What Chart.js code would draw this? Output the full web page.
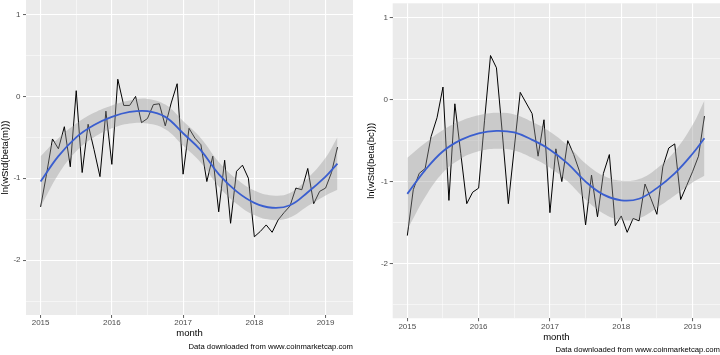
<!DOCTYPE html>
<html>
<head>
<meta charset="utf-8">
<script src="https://cdn.jsdelivr.net/npm/chart.js@4/dist/chart.umd.min.js"></script>
<style>
  html, body { margin: 0; padding: 0; background: #ffffff; }
  #wrap { position: relative; width: 720px; height: 355px; overflow: hidden; }
  .panel { position: absolute; top: 0; width: 360px; height: 355px; }
</style>
</head>
<body>
<div id="wrap">
  <div class="panel" style="left:0"><canvas id="c1" width="360" height="355"></canvas></div>
  <div class="panel" style="left:360px"><canvas id="c2" width="360" height="355"></canvas></div>
</div>
<script>
// ---------------- data ----------------
const startYear = 2015;          // first month: 2015-01
const monthCount = 51;           // 2015-01 .. 2019-03

// ln(wStd(beta(m))) monthly values
const leftValues = [
  -1.35, -0.95, -0.52, -0.64, -0.37, -0.86,  0.07, -0.93, -0.34, -0.65, -0.98, -0.18,
  -0.83,  0.21, -0.11, -0.11,  0.00, -0.32, -0.27, -0.10, -0.09, -0.36, -0.08,  0.155,
  -0.95, -0.39, -0.51, -0.59, -1.04, -0.73, -1.41, -0.78, -1.55, -0.915, -0.84, -1.00,
  -1.715, -1.65, -1.57, -1.66, -1.51, -1.42, -1.34, -1.12, -1.14, -0.88, -1.31, -1.16,
  -1.12, -0.93, -0.62
];
// ln(wStd(beta(bc))) monthly values
const rightValues = [
  -1.66, -1.10, -0.90, -0.84, -0.45, -0.22,  0.155, -1.23, -0.05, -0.66, -1.27, -1.13,
  -1.08, -0.25,  0.54,  0.39, -0.42, -1.27, -0.59,  0.09, -0.04, -0.17, -0.69, -0.245,
  -1.38, -0.60, -1.00, -0.50, -0.67, -0.88, -1.53, -0.92, -1.43, -0.90, -0.67, -1.54,
  -1.42, -1.62, -1.45, -1.48, -1.03, -1.21, -1.40, -0.82, -0.59, -0.54, -1.22, -1.05,
  -0.88, -0.69, -0.20
];

// smoother (read at these month indexes)
const smoothMonths = [0, 3, 6, 9, 12, 15, 18, 21, 24, 27, 30, 33, 36, 39, 42, 45, 48, 50];
const leftSmooth = [-1.04, -0.73, -0.50, -0.35, -0.25, -0.19, -0.18, -0.25, -0.45, -0.66, -0.95, -1.16, -1.30, -1.36, -1.33, -1.17, -0.98, -0.82];
const leftUpper  = [-0.73, -0.51, -0.33, -0.20, -0.11, -0.05, -0.03, -0.10, -0.30, -0.51, -0.80, -1.01, -1.15, -1.21, -1.18, -1.00, -0.75, -0.50];
const leftLower  = [-1.35, -0.95, -0.67, -0.50, -0.39, -0.33, -0.33, -0.40, -0.60, -0.81, -1.10, -1.31, -1.45, -1.51, -1.48, -1.34, -1.21, -1.14];
const rightSmooth = [-1.15, -0.86, -0.63, -0.49, -0.41, -0.38, -0.40, -0.49, -0.61, -0.78, -1.00, -1.16, -1.23, -1.21, -1.08, -0.90, -0.66, -0.47];
const rightUpper  = [-0.71, -0.53, -0.37, -0.26, -0.19, -0.16, -0.18, -0.27, -0.39, -0.56, -0.78, -0.93, -0.99, -0.97, -0.84, -0.63, -0.31, -0.01];
const rightLower  = [-1.59, -1.19, -0.89, -0.72, -0.63, -0.60, -0.62, -0.71, -0.83, -1.00, -1.22, -1.39, -1.47, -1.45, -1.32, -1.17, -1.01, -0.93];

// ticks
const xTickValues = [2015, 2015.5, 2016, 2016.5, 2017, 2017.5, 2018, 2018.5, 2019];
const xTickLabels = {2015: '2015', 2016: '2016', 2017: '2017', 2018: '2018', 2019: '2019'};
const yTickValues = [-2.5, -2, -1.5, -1, -0.5, 0, 0.5, 1];
const yTickLabels = {'-2': '-2', '-1': '-1', '0': '0', '1': '1'};

const leftTitle = 'ln(wStd(beta(m)))';
const rightTitle = 'ln(wStd(beta(bc)))';
const xTitle = 'month';
const caption = 'Data downloaded from www.coinmarketcap.com';

// ---------------- helpers ----------------
const FONT = "'Liberation Sans', Arial, Helvetica, sans-serif";
const monthToYear = i => startYear + i / 12;
const toPoints = (idx, vals) => vals.map((v, k) => ({x: monthToYear(idx[k]), y: v}));
const allMonths = Array.from({length: monthCount}, (_, i) => i);

const panelBg = {
  id: 'panelBg',
  beforeDraw(chart) {
    const a = chart.chartArea, c = chart.ctx;
    c.save(); c.fillStyle = '#EBEBEB';
    c.fillRect(a.left, a.top, a.right - a.left, a.bottom - a.top);
    c.restore();
  }
};

function isMajor(v) { return Math.abs(v - Math.round(v)) < 1e-9; }

function makeChart(id, o) {
  return new Chart(document.getElementById(id), {
    type: 'line',
    data: {
      datasets: [
        { data: toPoints(smoothMonths, o.smooth), borderColor: '#3A5ECF', borderWidth: 1.8,
          pointRadius: 0, fill: false, tension: 0.4, order: 0 },
        { data: toPoints(smoothMonths, o.upper), borderWidth: 0, borderColor: 'rgba(0,0,0,0)',
          backgroundColor: 'rgba(153,153,153,0.4)', pointRadius: 0, fill: '+1',
          tension: 0.4, order: 1 },
        { data: toPoints(smoothMonths, o.lower), borderWidth: 0, borderColor: 'rgba(0,0,0,0)',
          pointRadius: 0, fill: false, tension: 0.4, order: 2 },
        { data: toPoints(allMonths, o.values), borderColor: '#000000', borderWidth: 1.0,
          pointRadius: 0, fill: false, tension: 0, order: 3 }
      ]
    },
    options: {
      responsive: false, animation: false, devicePixelRatio: 1,
      layout: { padding: o.padding },
      plugins: {
        legend: { display: false }, tooltip: { enabled: false },
        subtitle: { display: true, position: 'bottom', align: 'end', text: caption,
          color: '#000', font: { family: FONT, size: 7.7, weight: 'normal' },
          padding: o.capPad }
      },
      scales: {
        x: {
          type: 'linear', min: 2014.795, max: 2019.385,
          afterBuildTicks: s => { s.ticks = xTickValues.map(v => ({value: v})); },
          afterFit: s => { s.height = o.xHeight; s.paddingLeft = 0; s.paddingRight = 0; },
          ticks: { autoSkip: false, maxRotation: 0, padding: o.xTickPad, color: '#4D4D4D',
            font: { family: FONT, size: 8 },
            callback: v => xTickLabels[v] !== undefined ? xTickLabels[v] : '' },
          grid: { color: '#FFFFFF', lineWidth: c => isMajor(c.tick.value) ? 1.1 : 0.5,
            tickColor: c => isMajor(c.tick.value) ? '#333333' : 'rgba(0,0,0,0)',
            tickLength: 3, tickWidth: 0.8 },
          border: { display: false },
          title: { display: true, text: xTitle, color: '#000',
            font: { family: FONT, size: 9.5 }, padding: { top: 0, bottom: o.xTitlePad } }
        },
        y: {
          type: 'linear', min: -2.67, max: 1.178,
          afterBuildTicks: s => { s.ticks = yTickValues.map(v => ({value: v})); },
          afterFit: s => { s.width = o.yWidth; s.paddingTop = 0; s.paddingBottom = 0; },
          ticks: { autoSkip: false, padding: o.yTickPad, color: '#4D4D4D',
            font: { family: FONT, size: 8 },
            callback: v => yTickLabels[String(v)] !== undefined ? yTickLabels[String(v)] : '' },
          grid: { color: '#FFFFFF', lineWidth: c => isMajor(c.tick.value) ? 1.1 : 0.5,
            tickColor: c => isMajor(c.tick.value) ? '#333333' : 'rgba(0,0,0,0)',
            tickLength: 3, tickWidth: 0.8 },
          border: { display: false },
          title: { display: true, text: o.yTitle, color: '#000',
            font: { family: FONT, size: 9.5 }, padding: { top: o.yTitlePad, bottom: 0 } }
        }
      }
    },
    plugins: [panelBg]
  });
}

makeChart('c1', {
  values: leftValues, smooth: leftSmooth, upper: leftUpper, lower: leftLower,
  yTitle: leftTitle,
  padding: { top: 0, right: 7, left: 0, bottom: 0 },
  capPad: { top: 0, bottom: 3.7 },
  xHeight: 27.1, xTickPad: 0.5, xTitlePad: 3.1,
  yWidth: 26, yTickPad: 2.5, yTitlePad: 0
});
makeChart('c2', {
  values: rightValues, smooth: rightSmooth, upper: rightUpper, lower: rightLower,
  yTitle: rightTitle,
  padding: { top: 3.3, right: 0, left: 0, bottom: 0 },
  capPad: { top: 0, bottom: 0 },
  xHeight: 27.5, xTickPad: 1.2, xTitlePad: 2.8,
  yWidth: 32.7, yTickPad: 1.7, yTitlePad: 6
});
</script>
</body>
</html>
